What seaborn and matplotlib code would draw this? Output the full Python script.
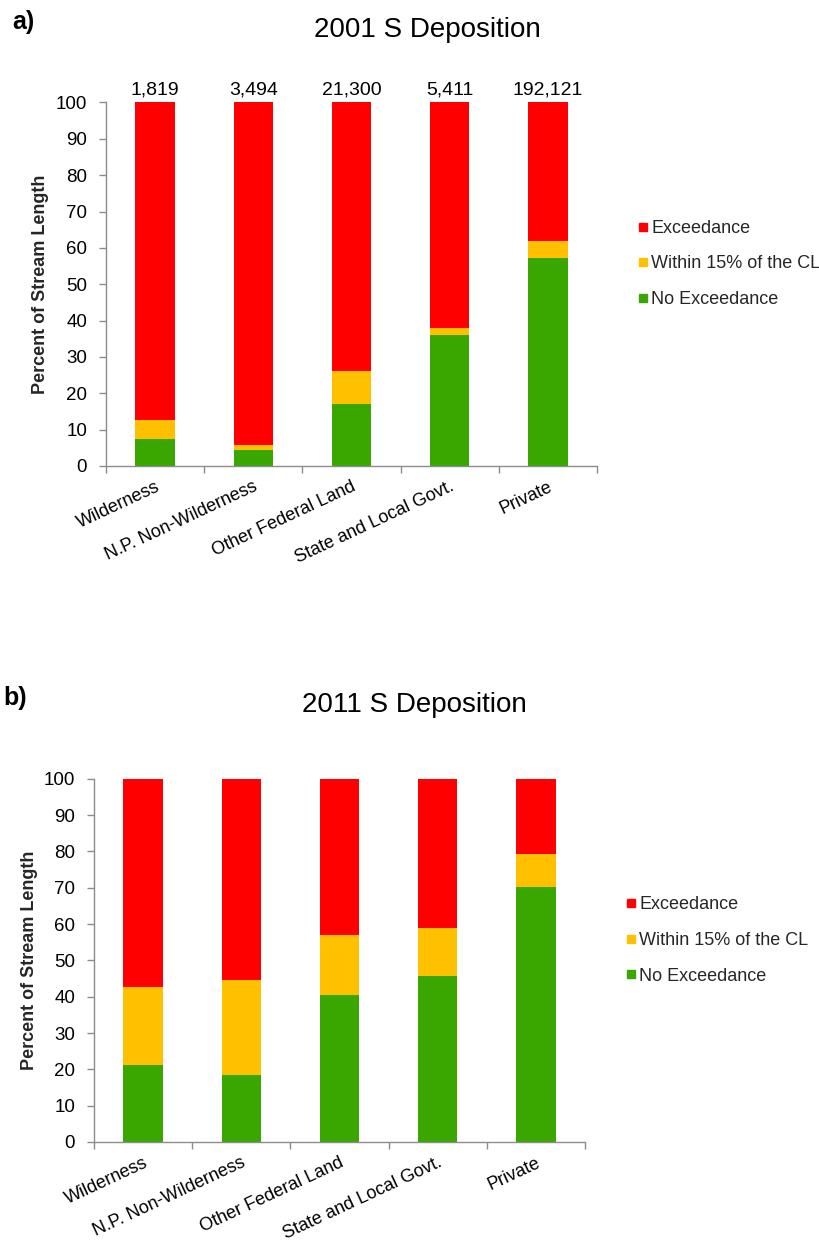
import matplotlib
matplotlib.use("Agg")
import matplotlib.pyplot as plt
from matplotlib.lines import Line2D
import numpy as np
import seaborn as sns

sns.set_theme(style="white")
plt.rcParams["font.family"] = ["Liberation Sans", "DejaVu Sans"]

categories = ["Wilderness", "N.P. Non-Wilderness", "Other Federal Land",
              "State and Local Govt.", "Private"]
stream_km = ["1,819", "3,494", "21,300", "5,411", "192,121"]

# 2001 percentages of stream length
no_exc_2001 = [7.3, 4.5, 17.1, 36.1, 57.3]
within_2001 = [5.4, 1.3, 9.0, 1.9, 4.7]
exceed_2001 = [87.3, 94.2, 73.9, 62.0, 38.0]

# 2011 percentages of stream length
no_exc_2011 = [21.1, 18.4, 40.4, 45.8, 70.2]
within_2011 = [21.6, 26.1, 16.5, 13.2, 9.1]
exceed_2011 = [57.3, 55.5, 43.1, 41.0, 20.7]

series_names = ["Exceedance", "Within 15% of the CL", "No Exceedance"]
colors = {"Exceedance": "#FF0000", "Within 15% of the CL": "#FFC000",
          "No Exceedance": "#3AA600"}

W, H = 820, 1247
fig = plt.figure(figsize=(W / 100, H / 100), dpi=100)


def px_axes(left, right, top, bottom):
    return fig.add_axes([left / W, 1 - bottom / H, (right - left) / W,
                         (bottom - top) / H])


ax_a = px_axes(106, 597, 102.5, 466)
ax_b = px_axes(94, 585, 778.7, 1142)


def draw_panel(ax, no_exc, within, exceed, ylabel_pad):
    no_exc = np.asarray(no_exc)
    within = np.asarray(within)
    exceed = np.asarray(exceed)
    layers = [
        ("Exceedance", no_exc + within + exceed),
        ("Within 15% of the CL", no_exc + within),
        ("No Exceedance", no_exc),
    ]
    for name, top in layers:
        sns.barplot(x=categories, y=top, color=colors[name], width=0.4,
                    saturation=1, ax=ax, edgecolor="none", linewidth=0)
    ax.set_xlim(-0.5, 4.5)
    ax.set_ylim(0, 100)
    ax.set_yticks(np.arange(0, 101, 10))
    ax.tick_params(axis="y", which="major", left=True, length=5, width=1,
                   color="#8C8C8C", labelsize=13.5, labelcolor="#000000",
                   pad=8.5)
    ax.set_xticks(np.arange(len(categories)))
    ax.set_xticks(np.arange(-0.5, len(categories), 1.0), minor=True)
    ax.tick_params(axis="x", which="major", length=0, labelsize=13,
                   labelcolor="#000000", pad=9)
    ax.tick_params(axis="x", which="minor", bottom=True, length=5, width=1,
                   color="#8C8C8C")
    ax.set_xticklabels(categories, rotation=25, ha="right",
                       rotation_mode="anchor")
    for side in ["top", "right"]:
        ax.spines[side].set_visible(False)
    for side in ["left", "bottom"]:
        ax.spines[side].set_color("#8C8C8C")
        ax.spines[side].set_linewidth(1)
    ax.set_ylabel("Percent of Stream Length", fontsize=13, fontweight="bold",
                  labelpad=ylabel_pad)
    ax.set_xlabel("")
    ax.grid(False)


def add_legend(ax, x_left, y_center):
    handles = [Line2D([0], [0], marker="s", linestyle="none", markersize=5.8,
                      markerfacecolor=colors[n], markeredgecolor=colors[n])
               for n in series_names]
    ax.legend(handles, series_names, loc="center left",
              bbox_to_anchor=(x_left / W, 1 - y_center / H),
              bbox_transform=fig.transFigure, frameon=False, fontsize=13,
              handlelength=0.5, handletextpad=0.22, labelspacing=1.03,
              borderaxespad=0, borderpad=0)


draw_panel(ax_a, no_exc_2001, within_2001, exceed_2001, ylabel_pad=5)
draw_panel(ax_b, no_exc_2011, within_2011, exceed_2011, ylabel_pad=4)

for i, txt in enumerate(stream_km):
    ax_a.text(i, 101.0, txt, ha="center", va="bottom", fontsize=14,
              color="#000000")

add_legend(ax_a, 638.5, 264)
add_legend(ax_b, 626.5, 940.5)

fig.text(427 / W, 1 - 30 / H, "2001 S Deposition", ha="center",
         va="center", fontsize=20, color="#000000")
fig.text(414 / W, 1 - 705 / H, "2011 S Deposition", ha="center",
         va="center", fontsize=20, color="#000000")
fig.text(12 / W, 1 - 22 / H, "a)", ha="left", va="center", fontsize=18,
         fontweight="bold", color="#000000")
fig.text(3 / W, 1 - 698 / H, "b)", ha="left", va="center", fontsize=18,
         fontweight="bold", color="#000000")

fig.savefig("out.png", dpi=100, facecolor="white")
